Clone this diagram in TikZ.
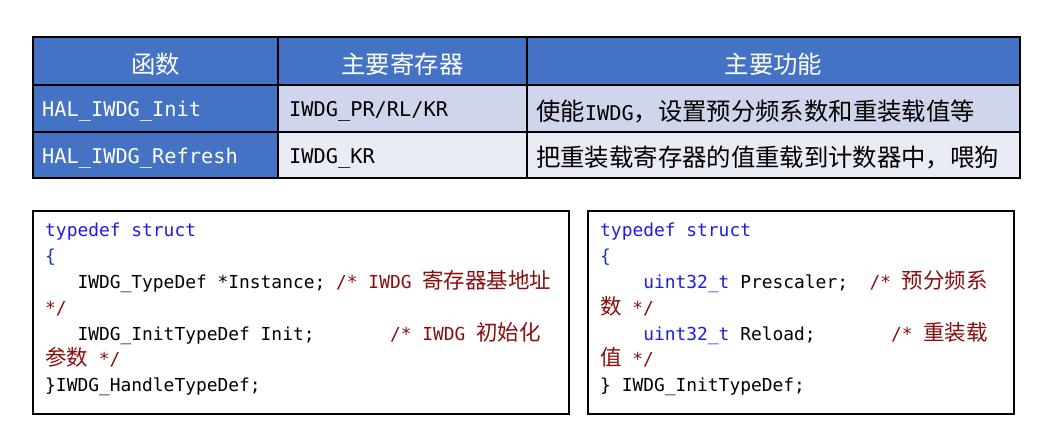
\documentclass[tikz,border=0pt]{standalone}
\usepackage{fontspec}
\setmainfont{DejaVu Sans Mono}
\newfontfamily\cjk[Scale=1.2]{Noto Sans CJK SC}
\usepackage{xcolor}
\usetikzlibrary{positioning}
\definecolor{hdrblue}{HTML}{4472C4}
\definecolor{rowdark}{HTML}{CFD5EA}
\definecolor{rowlight}{HTML}{E9EBF5}
\definecolor{kwblue}{HTML}{1C1CE8}
\definecolor{bracecol}{HTML}{1A3AB0}
\definecolor{cmtred}{HTML}{8A0E0E}
\tikzset{
  % table cells and code boxes
  cell/.style={rectangle, inner sep=0pt, outer sep=0pt},
  celltxt/.style={inner sep=0pt, yshift=-3pt, font=\fontsize{20.3}{24}\selectfont},
  codebox/.style={draw=black, line width=2pt, fill=white, inner sep=0pt},
  code/.style={inner sep=0pt, align=left, anchor=north west,
               font=\fontsize{17.9}{25.8}\selectfont\frenchspacing}
}
\newcommand{\kw}[1]{\textcolor{kwblue}{#1}}
\newcommand{\cmt}[1]{\textcolor{cmtred}{#1}}
\newcommand{\zh}[1]{{\cjk #1}}

\begin{document}
\begin{tikzpicture}[x=1pt, y=-1pt]
\useasboundingbox[fill=white] (0,0) rectangle (1057,427);

% Header row
\node[cell, fill=hdrblue, minimum width=245pt, minimum height=48pt] (hfunc) at (155.5,61) {};
\node[cell, fill=hdrblue, minimum width=249pt, minimum height=48pt] (hreg) at (402.5,61) {};
\node[cell, fill=hdrblue, minimum width=493pt, minimum height=48pt] (huse) at (773.5,61) {};

% Rows
\node[cell, fill=hdrblue, minimum width=245pt, minimum height=47pt] (finit) at (155.5,108.5) {};
\node[cell, fill=rowdark, minimum width=249pt, minimum height=47pt] (rinit) at (402.5,108.5) {};
\node[cell, fill=rowdark, minimum width=493pt, minimum height=47pt] (uinit) at (773.5,108.5) {};
\node[cell, fill=hdrblue, minimum width=245pt, minimum height=46pt] (frefr) at (155.5,155) {};
\node[cell, fill=rowlight, minimum width=249pt, minimum height=46pt] (rrefr) at (402.5,155) {};
\node[cell, fill=rowlight, minimum width=493pt, minimum height=46pt] (urefr) at (773.5,155) {};

% Cell borders
\foreach \c in {hfunc,hreg,huse,finit,rinit,uinit,frefr,rrefr,urefr}
  \draw[line width=2pt] (\c.south west) rectangle (\c.north east);

% Cell texts
\node[celltxt, text=white] (thfunc) at (hfunc) {\zh{函数}};
\node[celltxt, text=white] (threg) at (hreg) {\zh{主要寄存器}};
\node[celltxt, text=white] (thuse) at (huse) {\zh{主要功能}};
\node[celltxt, text=white, right=9pt of finit.west] (tfinit) {HAL\_IWDG\_Init};
\node[celltxt, right=11pt of rinit.west] (trinit) {IWDG\_PR/RL/KR};
\node[celltxt, right=9pt of uinit.west] (tuinit) {\zh{使能}IWDG\zh{，设置预分频系数和重装载值等}};
\node[celltxt, text=white, right=9pt of frefr.west] (tfrefr) {HAL\_IWDG\_Refresh};
\node[celltxt, right=11pt of rrefr.west] (trrefr) {IWDG\_KR};
\node[celltxt, right=9pt of urefr.west] (turefr) {\zh{把重装载寄存器的值重载到计数器中，喂狗}};

% Code boxes
\node[codebox, minimum width=536pt, minimum height=203pt] (handlebox) at (301,312.5) {};
\node[codebox, minimum width=426pt, minimum height=203pt] (initbox) at (801,312.5) {};

\node[code] (handlecode) at (45,223) {%
\kw{typedef struct}\\
\textcolor{bracecol}{\{}\\
\ \ \ IWDG\_TypeDef *Instance; \cmt{/* IWDG \zh{寄存器基地址}}\\
\cmt{*/}\\
\ \ \ IWDG\_InitTypeDef Init;\ \ \ \ \ \ \ \cmt{/* IWDG \zh{初始化}}\\
\cmt{\zh{参数} */}\\
\}IWDG\_HandleTypeDef;};

\node[code] (initcode) at (600,223) {%
\kw{typedef struct}\\
\textcolor{bracecol}{\{}\\
\ \ \ \ \kw{uint32\_t} Prescaler;\ \ \cmt{/* \zh{预分频系}}\\
\cmt{\zh{数} */}\\
\ \ \ \ \kw{uint32\_t} Reload;\ \ \ \ \ \ \ \cmt{/* \zh{重装载}}\\
\cmt{\zh{值} */}\\
\} IWDG\_InitTypeDef;};

\end{tikzpicture}
\end{document}
